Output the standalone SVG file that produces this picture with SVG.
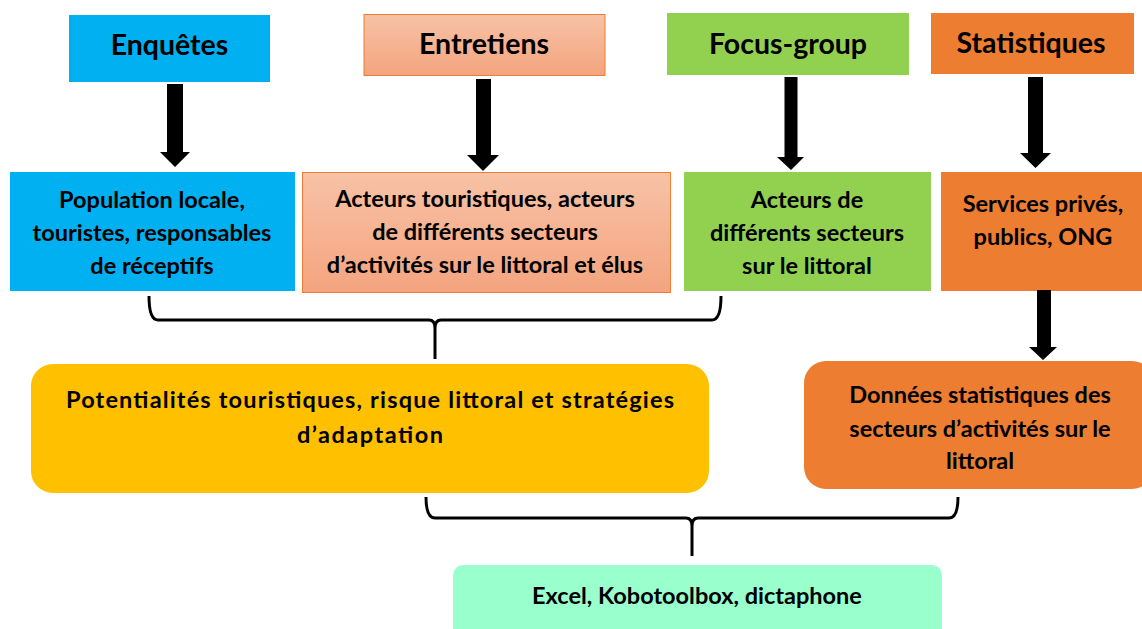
<svg xmlns="http://www.w3.org/2000/svg" width="1142" height="629" viewBox="0 0 1142 629">
<defs>
<linearGradient id="salmon" x1="0" y1="0" x2="0" y2="1">
<stop offset="0" stop-color="#F7C2A6"/>
<stop offset="1" stop-color="#F4A47F"/>
</linearGradient>
<style>
text{font-family:Lato,"Open Sans","Liberation Sans",sans-serif;font-weight:700;fill:#000;text-anchor:middle}
.t{font-size:28.5px}
.m{font-size:23.5px}
.arrow{fill:#000}
.brace{fill:none;stroke:#000;stroke-width:3;stroke-linejoin:round}
</style>
</defs>
<rect width="1142" height="629" fill="#fff"/>

<g id="enquetes">
<rect x="69" y="15" width="201" height="67" fill="#00B0F0"/>
<text class="t" x="169.5" y="55">Enquêtes</text>
</g>
<g id="entretiens">
<rect x="364" y="14.5" width="241" height="61" fill="url(#salmon)" stroke="#ED7D31" stroke-width="1"/>
<text class="t" x="484" y="54">Entretiens</text>
</g>
<g id="focus-group">
<rect x="667" y="13" width="242" height="62" fill="#92D050"/>
<text class="t" x="788" y="54">Focus-group</text>
</g>
<g id="statistiques">
<rect x="931" y="13" width="203" height="61" fill="#ED7D31"/>
<text class="t" x="1031" y="53">Statistiques</text>
</g>

<g id="population">
<rect x="10" y="172" width="285" height="119" fill="#00B0F0"/>
<text class="m" x="152" y="208">Population locale,</text>
<text class="m" x="152" y="241">touristes, responsables</text>
<text class="m" x="152" y="274">de réceptifs</text>
</g>
<g id="acteurs-touristiques">
<rect x="302.5" y="172.5" width="368" height="120" fill="url(#salmon)" stroke="#ED7D31" stroke-width="1"/>
<text class="m" x="485" y="207">Acteurs touristiques, acteurs</text>
<text class="m" x="485" y="240">de différents secteurs</text>
<text class="m" x="485" y="273">d’activités sur le littoral et élus</text>
</g>
<g id="acteurs-secteurs">
<rect x="684" y="172" width="247" height="119" fill="#92D050"/>
<text class="m" x="807" y="208">Acteurs de</text>
<text class="m" x="807" y="241">différents secteurs</text>
<text class="m" x="807" y="274">sur le littoral</text>
</g>
<g id="services">
<rect x="941" y="172" width="201" height="119" fill="#ED7D31"/>
<text class="m" x="1043" y="212">Services privés,</text>
<text class="m" x="1043" y="245">publics, ONG</text>
</g>

<g id="potentialites">
<rect x="31" y="364" width="678" height="129" rx="22" fill="#FFC000"/>
<text class="m" x="370" y="408" textLength="608" lengthAdjust="spacing">Potentialités touristiques,  risque littoral et stratégies</text>
<text class="m" x="370" y="443" textLength="146" lengthAdjust="spacing">d’adaptation</text>
</g>
<g id="donnees">
<rect x="804" y="361" width="350" height="128" rx="22" fill="#ED7D31"/>
<text class="m" x="980" y="403">Données statistiques des</text>
<text class="m" x="980" y="437">secteurs d’activités sur le</text>
<text class="m" x="980" y="469">littoral</text>
</g>
<g id="outils">
<rect x="453" y="565" width="489" height="80" rx="10" fill="#99FFCC"/>
<text class="m" x="697" y="604">Excel, Kobotoolbox, dictaphone</text>
</g>

<g id="connectors">
<path class="arrow" d="M167,84 H183 V152 H190 L175,167 L160,152 H167 Z"/>
<path class="arrow" d="M476,79 H491 V155 H499 L483,171 L467,155 H476 Z"/>
<path class="arrow" d="M784.5,77 H797.5 V157 H804 L791,170 L777,157 H784.5 Z"/>
<path class="arrow" d="M1028,77 H1043 V153 H1051 L1035.5,168 L1020,153 H1028 Z"/>
<path class="arrow" d="M1037,290 H1051 V347 H1057 L1043,360 L1029,347 H1037 Z"/>
<path class="brace" d="M149,296 Q149,320 158,320 L429,320 Q435,320 435,328 L435,359 M721,296 Q721,320 712,320 L441,320 Q435,320 435,328"/>
<path class="brace" d="M426,497 Q426,518 435,518 L686,518 Q692,518 692,526 L692,556 M958,497 Q958,518 949,518 L698,518 Q692,518 692,526"/>
</g>
</svg>
